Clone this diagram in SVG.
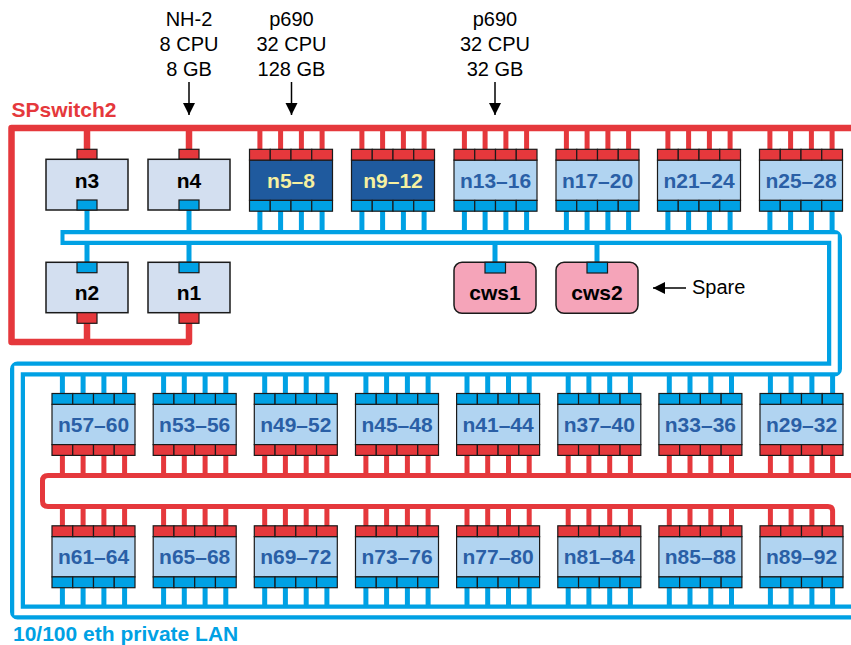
<svg xmlns="http://www.w3.org/2000/svg" width="851" height="645" viewBox="0 0 851 645">
<style>
.pR{fill:#e5383c;stroke:#1a1a1a;stroke-width:1.2}
.pB{fill:#00a1e4;stroke:#1a1a1a;stroke-width:1.2}
.bL{fill:#b1d4f1;stroke:#1a1a1a;stroke-width:1.2}
.bD{fill:#1f5a9e;stroke:#1a1a1a;stroke-width:1.2}
.bS{fill:#d3dff0;stroke:#1a1a1a;stroke-width:1.5}
.bC{fill:#f5a4b9;stroke:#1a1a1a;stroke-width:1.5}
.lbl{font-family:"Liberation Sans",Arial,sans-serif;font-weight:bold;font-size:21px;text-anchor:middle;fill:#2a5fa6}
.lblY{fill:#f6f0a0}
.lblK{fill:#000}
.note{font-family:"Liberation Sans",Arial,sans-serif;font-size:20px;fill:#000}
.wr{stroke:#e5383c;fill:none;stroke-width:5}
.wb{stroke:#00a1e4;fill:none;stroke-width:5}
.ar{stroke:#000;stroke-width:1.5;fill:none;marker-end:url(#arr)}
</style>
<defs>
<marker id="arr" markerUnits="userSpaceOnUse" markerWidth="14" markerHeight="14" refX="12" refY="6" orient="auto"><path d="M0,0 L12,6 L0,12 z" fill="#000"/></marker>
<g id="qA">
<rect class="bL" x="0" y="10.8" width="83" height="40.3"/>
<rect class="pR" x="0" y="0" width="20.75" height="10.8"/><rect class="pR" x="20.75" y="0" width="20.75" height="10.8"/><rect class="pR" x="41.5" y="0" width="20.75" height="10.8"/><rect class="pR" x="62.25" y="0" width="20.75" height="10.8"/>
<rect class="pB" x="0" y="51.1" width="20.75" height="10.8"/><rect class="pB" x="20.75" y="51.1" width="20.75" height="10.8"/><rect class="pB" x="41.5" y="51.1" width="20.75" height="10.8"/><rect class="pB" x="62.25" y="51.1" width="20.75" height="10.8"/>
</g>
<g id="qD">
<rect class="bD" x="0" y="10.8" width="83" height="40.3"/>
<rect class="pR" x="0" y="0" width="20.75" height="10.8"/><rect class="pR" x="20.75" y="0" width="20.75" height="10.8"/><rect class="pR" x="41.5" y="0" width="20.75" height="10.8"/><rect class="pR" x="62.25" y="0" width="20.75" height="10.8"/>
<rect class="pB" x="0" y="51.1" width="20.75" height="10.8"/><rect class="pB" x="20.75" y="51.1" width="20.75" height="10.8"/><rect class="pB" x="41.5" y="51.1" width="20.75" height="10.8"/><rect class="pB" x="62.25" y="51.1" width="20.75" height="10.8"/>
</g>
<g id="qB">
<rect class="bL" x="0" y="10.8" width="83" height="40.3"/>
<rect class="pB" x="0" y="0" width="20.75" height="10.8"/><rect class="pB" x="20.75" y="0" width="20.75" height="10.8"/><rect class="pB" x="41.5" y="0" width="20.75" height="10.8"/><rect class="pB" x="62.25" y="0" width="20.75" height="10.8"/>
<rect class="pR" x="0" y="51.1" width="20.75" height="10.8"/><rect class="pR" x="20.75" y="51.1" width="20.75" height="10.8"/><rect class="pR" x="41.5" y="51.1" width="20.75" height="10.8"/><rect class="pR" x="62.25" y="51.1" width="20.75" height="10.8"/>
</g>
</defs>
<rect width="851" height="645" fill="#fff"/>

<g id="connectors">
<!-- red drops from top SP switch bus -->
<path class="wr" d="M259.9 128V150M280.6 128V150M301.4 128V150M322.1 128V150M361.9 128V150M382.6 128V150M403.4 128V150M424.1 128V150M464.4 128V150M485.1 128V150M505.9 128V150M526.6 128V150M566.4 128V150M587.1 128V150M607.9 128V150M628.6 128V150M667.9 128V150M688.6 128V150M709.4 128V150M730.1 128V150M769.9 128V150M790.6 128V150M811.4 128V150M832.1 128V150"/>
<path class="wr" style="stroke-width:6.5" d="M87 128V150M189 128V150M87 322V342"/>
<!-- blue drops top row -->
<path class="wb" d="M259.9 210V237.5M280.6 210V237.5M301.4 210V237.5M322.1 210V237.5M361.9 210V237.5M382.6 210V237.5M403.4 210V237.5M424.1 210V237.5M464.4 210V237.5M485.1 210V237.5M505.9 210V237.5M526.6 210V237.5M566.4 210V237.5M587.1 210V237.5M607.9 210V237.5M628.6 210V237.5M667.9 210V237.5M688.6 210V237.5M709.4 210V237.5M730.1 210V237.5M769.9 210V237.5M790.6 210V237.5M811.4 210V237.5M832.1 210V237.5M87 209V263M189 209V263M495 237.5V263M597 237.5V263"/>
<!-- blue drops row 3 and row 4 -->
<path class="wb" d="M62.4 369V394M83.1 369V394M103.9 369V394M124.6 369V394M163.6 369V394M184.3 369V394M205.1 369V394M225.8 369V394M264.7 369V394M285.4 369V394M306.2 369V394M326.9 369V394M365.9 369V394M386.6 369V394M407.4 369V394M428.1 369V394M467 369V394M487.7 369V394M508.5 369V394M529.2 369V394M568.2 369V394M588.9 369V394M609.7 369V394M630.4 369V394M669.3 369V394M690 369V394M710.8 369V394M731.5 369V394M770.4 369V394M791.1 369V394M811.9 369V394M832.6 369V394"/>
<path class="wb" d="M62.4 587V612M83.1 587V612M103.9 587V612M124.6 587V612M163.6 587V612M184.3 587V612M205.1 587V612M225.8 587V612M264.7 587V612M285.4 587V612M306.2 587V612M326.9 587V612M365.9 587V612M386.6 587V612M407.4 587V612M428.1 587V612M467 587V612M487.7 587V612M508.5 587V612M529.2 587V612M568.2 587V612M588.9 587V612M609.7 587V612M630.4 587V612M669.3 587V612M690 587V612M710.8 587V612M731.5 587V612M770.4 587V612M791.1 587V612M811.9 587V612M832.6 587V612"/>
<!-- red drops row 3 and row 4 -->
<path class="wr" d="M62.4 455V475.5M83.1 455V475.5M103.9 455V475.5M124.6 455V475.5M163.6 455V475.5M184.3 455V475.5M205.1 455V475.5M225.8 455V475.5M264.7 455V475.5M285.4 455V475.5M306.2 455V475.5M326.9 455V475.5M365.9 455V475.5M386.6 455V475.5M407.4 455V475.5M428.1 455V475.5M467 455V475.5M487.7 455V475.5M508.5 455V475.5M529.2 455V475.5M568.2 455V475.5M588.9 455V475.5M609.7 455V475.5M630.4 455V475.5M669.3 455V475.5M690 455V475.5M710.8 455V475.5M731.5 455V475.5M770.4 455V475.5M791.1 455V475.5M811.9 455V475.5M832.6 455V475.5"/>
<path class="wr" d="M62.4 506.5V527M83.1 506.5V527M103.9 506.5V527M124.6 506.5V527M163.6 506.5V527M184.3 506.5V527M205.1 506.5V527M225.8 506.5V527M264.7 506.5V527M285.4 506.5V527M306.2 506.5V527M326.9 506.5V527M365.9 506.5V527M386.6 506.5V527M407.4 506.5V527M428.1 506.5V527M467 506.5V527M487.7 506.5V527M508.5 506.5V527M529.2 506.5V527M568.2 506.5V527M588.9 506.5V527M609.7 506.5V527M630.4 506.5V527M669.3 506.5V527M690 506.5V527M710.8 506.5V527M731.5 506.5V527M770.4 506.5V527M791.1 506.5V527M811.9 506.5V527"/>
<!-- SP switch buses -->
<path class="wr" style="stroke-width:6.5;stroke-linejoin:round" d="M860 128H11.5V342H189V322"/>
<path class="wr" d="M860 475.5H48Q42.5 475.5 42.5 481V501Q42.5 506.5 48 506.5H828Q832.6 506.5 832.6 511V527"/>
<!-- ethernet pipe -->
<path d="M68 237.5H834.5V369H17.5V612H860" fill="none" stroke="#00a1e4" stroke-width="15" stroke-linecap="square" stroke-linejoin="round"/>
<path d="M64.5 237.5H834.5V369H17.5V612H860" fill="none" stroke="#fff" stroke-width="6.5"/>
<!-- annotation arrows -->
<line class="ar" x1="189" y1="82" x2="189" y2="115"/>
<line class="ar" x1="291.5" y1="82" x2="291.5" y2="115"/>
<line class="ar" x1="495" y1="82" x2="495" y2="115"/>
<line class="ar" x1="686" y1="288" x2="653" y2="288"/>
</g>

<g id="labels">
<text x="11.5" y="116.5" style="font-family:'Liberation Sans',Arial,sans-serif;font-weight:bold;font-size:21px;fill:#e5383c">SPswitch2</text>
<text x="13" y="641" style="font-family:'Liberation Sans',Arial,sans-serif;font-weight:bold;font-size:21px;fill:#00a1e4">10/100 eth private LAN</text>
<text class="note" text-anchor="middle"><tspan x="189" y="26">NH-2</tspan><tspan x="189" y="51">8 CPU</tspan><tspan x="189" y="76">8 GB</tspan></text>
<text class="note" text-anchor="middle"><tspan x="291.5" y="26">p690</tspan><tspan x="291.5" y="51">32 CPU</tspan><tspan x="291.5" y="76">128 GB</tspan></text>
<text class="note" text-anchor="middle"><tspan x="495" y="26">p690</tspan><tspan x="495" y="51">32 CPU</tspan><tspan x="495" y="76">32 GB</tspan></text>
<text class="note" x="692" y="294">Spare</text>
</g>

<g id="n3"><rect class="pR" x="77" y="149.3" width="20" height="10"/><rect class="bS" x="46" y="159.3" width="82" height="50.7"/><rect class="pB" x="77" y="200" width="20" height="10"/><text class="lbl lblK" x="87" y="187.5">n3</text></g>
<g id="n4"><rect class="pR" x="179" y="149.3" width="20" height="10"/><rect class="bS" x="148" y="159.3" width="82" height="50.7"/><rect class="pB" x="179" y="200" width="20" height="10"/><text class="lbl lblK" x="189" y="187.5">n4</text></g>
<g id="n2"><rect class="bS" x="46" y="262.3" width="82" height="50.4"/><rect class="pB" x="77" y="262.3" width="20" height="10.4"/><rect class="pR" x="77" y="312.7" width="20" height="10.6"/><text class="lbl lblK" x="87" y="300">n2</text></g>
<g id="n1"><rect class="bS" x="148" y="262.3" width="82" height="50.4"/><rect class="pB" x="179" y="262.3" width="20" height="10.4"/><rect class="pR" x="179" y="312.7" width="20" height="10.6"/><text class="lbl lblK" x="189" y="300">n1</text></g>
<g id="cws1"><rect class="bC" x="454" y="262.3" width="82" height="51" rx="8"/><rect class="pB" x="485" y="262.3" width="20.5" height="10.7"/><text class="lbl lblK" x="495" y="300">cws1</text></g>
<g id="cws2"><rect class="bC" x="556" y="262.3" width="82" height="51" rx="8"/><rect class="pB" x="587" y="262.3" width="20.5" height="10.7"/><text class="lbl lblK" x="597" y="300">cws2</text></g>

<g id="n5-8" transform="translate(249.5,149.3)"><use href="#qD"/><text class="lbl lblY" x="41.5" y="38.3">n5–8</text></g>
<g id="n9-12" transform="translate(351.5,149.3)"><use href="#qD"/><text class="lbl lblY" x="41.5" y="38.3">n9–12</text></g>
<g id="n13-16" transform="translate(454,149.3)"><use href="#qA"/><text class="lbl" x="41.5" y="38.3">n13–16</text></g>
<g id="n17-20" transform="translate(556,149.3)"><use href="#qA"/><text class="lbl" x="41.5" y="38.3">n17–20</text></g>
<g id="n21-24" transform="translate(657.5,149.3)"><use href="#qA"/><text class="lbl" x="41.5" y="38.3">n21–24</text></g>
<g id="n25-28" transform="translate(759.5,149.3)"><use href="#qA"/><text class="lbl" x="41.5" y="38.3">n25–28</text></g>

<g id="n57-60" transform="translate(52,393.5)"><use href="#qB"/><text class="lbl" x="41.5" y="38.5">n57–60</text></g>
<g id="n53-56" transform="translate(153.2,393.5)"><use href="#qB"/><text class="lbl" x="41.5" y="38.5">n53–56</text></g>
<g id="n49-52" transform="translate(254.3,393.5)"><use href="#qB"/><text class="lbl" x="41.5" y="38.5">n49–52</text></g>
<g id="n45-48" transform="translate(355.5,393.5)"><use href="#qB"/><text class="lbl" x="41.5" y="38.5">n45–48</text></g>
<g id="n41-44" transform="translate(456.6,393.5)"><use href="#qB"/><text class="lbl" x="41.5" y="38.5">n41–44</text></g>
<g id="n37-40" transform="translate(557.8,393.5)"><use href="#qB"/><text class="lbl" x="41.5" y="38.5">n37–40</text></g>
<g id="n33-36" transform="translate(658.9,393.5)"><use href="#qB"/><text class="lbl" x="41.5" y="38.5">n33–36</text></g>
<g id="n29-32" transform="translate(760,393.5)"><use href="#qB"/><text class="lbl" x="41.5" y="38.5">n29–32</text></g>

<g id="n61-64" transform="translate(52,525.8)"><use href="#qA"/><text class="lbl" x="41.5" y="38.3">n61–64</text></g>
<g id="n65-68" transform="translate(153.2,525.8)"><use href="#qA"/><text class="lbl" x="41.5" y="38.3">n65–68</text></g>
<g id="n69-72" transform="translate(254.3,525.8)"><use href="#qA"/><text class="lbl" x="41.5" y="38.3">n69–72</text></g>
<g id="n73-76" transform="translate(355.5,525.8)"><use href="#qA"/><text class="lbl" x="41.5" y="38.3">n73–76</text></g>
<g id="n77-80" transform="translate(456.6,525.8)"><use href="#qA"/><text class="lbl" x="41.5" y="38.3">n77–80</text></g>
<g id="n81-84" transform="translate(557.8,525.8)"><use href="#qA"/><text class="lbl" x="41.5" y="38.3">n81–84</text></g>
<g id="n85-88" transform="translate(658.9,525.8)"><use href="#qA"/><text class="lbl" x="41.5" y="38.3">n85–88</text></g>
<g id="n89-92" transform="translate(760,525.8)"><use href="#qA"/><text class="lbl" x="41.5" y="38.3">n89–92</text></g>
</svg>
